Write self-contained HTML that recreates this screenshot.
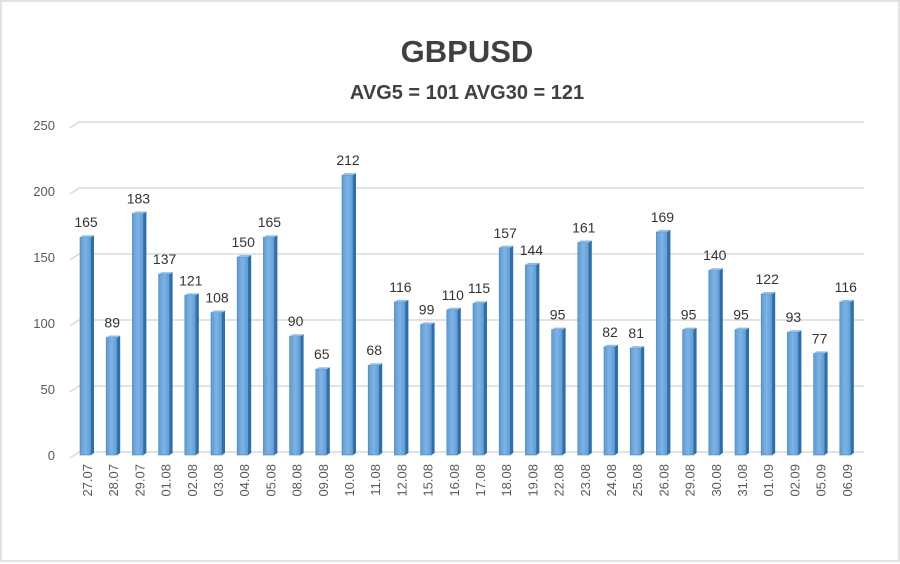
<!DOCTYPE html>
<html><head><meta charset="utf-8"><style>
html,body{margin:0;padding:0;background:#fff}
#c{width:900px;height:562px;position:relative;box-sizing:border-box;border:2px solid #e2e2e2;background:#fff}
svg{position:absolute;left:0;top:0}
</style></head><body><div id="c"></div>
<script>
var VALS=[165,89,183,137,121,108,150,165,90,65,212,68,116,99,110,115,157,144,95,161,82,81,169,95,140,95,122,93,77,116];
var dl=["27.07","28.07","29.07","01.08","02.08","03.08","04.08","05.08","08.08","09.08","10.08","11.08","12.08","15.08","16.08","17.08","18.08","19.08","22.08","23.08","24.08","25.08","26.08","29.08","30.08","31.08","01.09","02.09","05.09","06.09"];
var s='<svg width="900" height="562" xmlns="http://www.w3.org/2000/svg" font-family="Liberation Sans, sans-serif">';
s+='<text x="465" y="60" text-anchor="middle" font-size="31" font-weight="bold" fill="#404040">GBPUSD</text>';
s+='<text x="465" y="97" text-anchor="middle" font-size="20" font-weight="bold" fill="#404040">AVG5 = 101 AVG30 = 121</text>';
var y0=453,k=1.32;
for(var g=0;g<=250;g+=50){var y=y0-g*k;
 s+='<polyline points="68,'+(y+3)+' 77,'+(y-3)+' 862,'+(y-3)+'" fill="none" stroke="#d9d9d9" stroke-width="1.5"/>';
 s+='<text x="53" y="'+(y+5)+'" text-anchor="end" font-size="13" fill="#595959">'+g+'</text>';}
s+='<defs><linearGradient id="g" x1="0" x2="1"><stop offset="0" stop-color="#5b9bd5"/><stop offset="0.5" stop-color="#7fb3e3"/><stop offset="1" stop-color="#5b9bd5"/></linearGradient></defs>';
for(var i=0;i<30;i++){
 var x=78+i*26.2,v=VALS[i],t=y0-v*k,w=11;
 s+='<rect x="'+x+'" y="'+t+'" width="'+w+'" height="'+(y0-t)+'" fill="url(#g)" stroke="#4a86c0" stroke-width="0.6"/>';
 s+='<polygon points="'+(x+w)+','+t+' '+(x+w+3)+','+(t-2)+' '+(x+w+3)+','+(y0-2)+' '+(x+w)+','+y0+'" fill="#2f6ea8"/>';
 s+='<polygon points="'+x+','+t+' '+(x+3)+','+(t-2)+' '+(x+w+3)+','+(t-2)+' '+(x+w)+','+t+'" fill="#8fbde6"/>';
 s+='<text x="'+(x+6)+'" y="'+(t-10)+'" text-anchor="middle" font-size="14" fill="#333">'+v+'</text>';
 var cx=x+7;
 s+='<text transform="translate('+(cx+5)+',462) rotate(-90)" text-anchor="end" font-size="13" fill="#595959">'+dl[i]+'</text>';
}
s+='</svg>';
document.getElementById('c').innerHTML=s;
</script>
</body></html>
